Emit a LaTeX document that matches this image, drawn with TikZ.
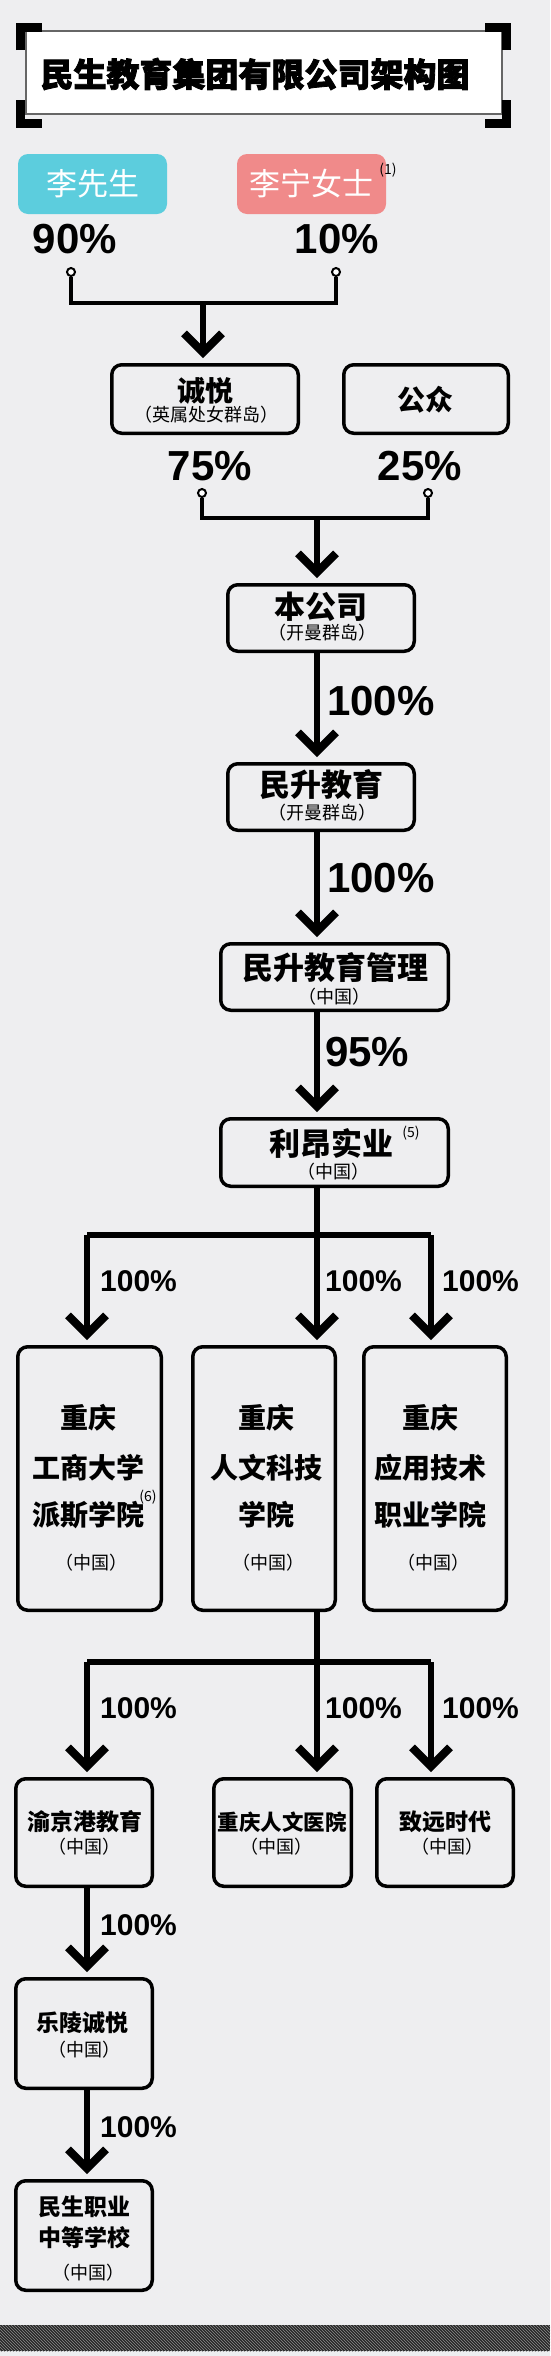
\documentclass[tikz,border=0pt]{standalone}
\usepackage{fontspec}
\setmainfont{Noto Sans CJK SC}
\newfontfamily\heavyfont{Noto Sans CJK SC}[FakeBold=2.5]
\newfontfamily\pctfont{Liberation Sans}
\usetikzlibrary{arrows.meta,patterns}
\definecolor{bg}{RGB}{238,238,240}
\definecolor{cyanbox}{RGB}{92,205,221}
\definecolor{pinkbox}{RGB}{240,138,138}
\begin{document}
\begin{tikzpicture}[x=1pt,y=-1pt,
  box/.style={draw=black, line width=3.5pt, rounded corners=10pt, inner sep=0pt},
  pill/.style={rounded corners=10pt, inner sep=0pt},
  cnbig/.style={inner sep=0pt, font=\bfseries\fontsize{31}{31}\selectfont},
  cnmid/.style={inner sep=0pt, font=\bfseries\fontsize{28}{28}\selectfont},
  cnsmall/.style={inner sep=0pt, font=\bfseries\fontsize{23}{23}\selectfont},
  cnsub/.style={inner sep=0pt, font=\fontsize{18}{18}\selectfont},
  supnote/.style={inner sep=0pt, font=\fontsize{14}{14}\selectfont},
  pctbig/.style={inner sep=0pt, font=\pctfont\bfseries\fontsize{42}{42}\selectfont},
  pctsmall/.style={inner sep=0pt, anchor=west, font=\pctfont\bfseries\fontsize{30}{30}\selectfont},
  dot/.style={circle, draw=black, fill=white, line width=2pt, minimum size=8pt, inner sep=0pt},
  fork/.style={line width=3.5pt},
  shaft/.style={line width=6pt, line cap=square},
  arr/.style={line width=6pt, shorten >=5pt, -{Straight Barb[length=19pt,width=38pt,line width=8pt]}}
]
\useasboundingbox (0,0) rectangle (550,2356);
\fill[bg] (0,0) rectangle (550,2356);

% title
\node[draw=black!60, line width=2pt, fill=white, minimum width=476pt, minimum height=83pt, inner sep=0pt] (tbox) at (264,72.5) {};
\node[inner sep=0pt, font=\heavyfont\bfseries\fontsize{33}{33}\selectfont] (ttl) at (255,74) {民生教育集团有限公司架构图};
\draw[line width=9pt] (20.5,50) -- (20.5,27.5) -- (42,27.5);
\draw[line width=9pt] (20.5,100) -- (20.5,123.5) -- (42,123.5);
\draw[line width=9pt] (506.5,50) -- (506.5,27.5) -- (485,27.5);
\draw[line width=9pt] (506.5,100) -- (506.5,123.5) -- (485,123.5);

% owners
\node[pill, fill=cyanbox, text=white, minimum width=149pt, minimum height=60pt, font=\fontsize{31}{31}\selectfont] (li) at (92.5,184) {李先生};
\node[pill, fill=pinkbox, text=white, minimum width=149pt, minimum height=60pt, font=\fontsize{31}{31}\selectfont] (ning) at (311.5,184) {李宁女士};
\node[supnote] (n1) at (388,170) {(1)};
\node[pctbig] (p90) at (75,239) {90\%};
\node[pctbig] (p10) at (337,239) {10\%};
\node[dot] (d90) at (71,272) {};
\node[dot] (d10) at (336,272) {};
\coordinate (j1) at (203,303);
\draw[fork] (d90.south) |- (j1) -| (d10.south);

% chengyue / public
\node[box, minimum width=186.5pt, minimum height=68.5pt] (cy) at (205,399) {};
\node[cnmid] (cyt) at (205,391) {诚悦};
\node[cnsub] (cys) at (206,415) {（英属处女群岛）};
\node[box, minimum width=164.5pt, minimum height=68.5pt] (gz) at (426,399) {};
\node[cnmid] (gzt) at (425,400) {公众};
\draw[arr] (j1) -- (j1 |- cy.north);
\node[pctbig] (p75) at (210,466) {75\%};
\node[pctbig] (p25) at (420,466) {25\%};
\node[dot] (d75) at (202,493) {};
\node[dot] (d25) at (428,493) {};
\coordinate (j2) at (317,518);
\draw[fork] (d75.south) |- (j2) -| (d25.south);

% main chain
\node[box, minimum width=186.5pt, minimum height=66.5pt] (bc) at (321,618) {};
\node[cnbig] (bct) at (321,607) {本公司};
\node[cnsub] (bcs) at (322,633) {（开曼群岛）};
\draw[arr] (j2) -- (j2 |- bc.north);

\node[box, minimum width=186.5pt, minimum height=66.5pt] (ms) at (321,797) {};
\node[cnbig] (mst) at (321,785) {民升教育};
\node[cnsub] (mss) at (322,813) {（开曼群岛）};
\draw[arr] (bc.south -| j2) -- (ms.north -| j2);
\node[pctbig, anchor=west] (l1) at (327,701) {100\%};

\node[box, minimum width=227.5pt, minimum height=66.5pt] (mm) at (334.5,977) {};
\node[cnbig] (mmt) at (335,968) {民升教育管理};
\node[cnsub] (mms) at (334,997) {（中国）};
\draw[arr] (ms.south -| j2) -- (mm.north -| j2);
\node[pctbig, anchor=west] (l2) at (327,878) {100\%};

\node[box, minimum width=227.5pt, minimum height=67.5pt] (la) at (334.5,1152.5) {};
\node[cnbig] (lat) at (331,1143) {利昂实业};
\node[supnote] (n5) at (411,1133) {(5)};
\node[cnsub] (las) at (333,1172) {（中国）};
\draw[arr] (mm.south -| j2) -- (la.north -| j2);
\node[pctbig, anchor=west] (l3) at (325,1052) {95\%};

% first fork
\coordinate (j3) at (317,1235);
\coordinate (j3l) at (87,1235);
\coordinate (j3r) at (431,1235);
\draw[shaft] (la.south -| j3) -- (j3);
\draw[shaft] (j3l) -- (j3r);

\node[box, minimum width=143.5pt, minimum height=263.5pt] (gs) at (89.5,1478.5) {};
\node[cnmid] (gs1) at (88,1418) {重庆};
\node[cnmid] (gs2) at (88,1468) {工商大学};
\node[cnmid] (gs3) at (88,1515) {派斯学院};
\node[supnote] (n6) at (148,1497) {(6)};
\node[cnsub] (gs4) at (91,1563) {（中国）};

\node[box, minimum width=142.5pt, minimum height=263.5pt] (rw) at (264,1478.5) {};
\node[cnmid] (rw1) at (266,1418) {重庆};
\node[cnmid] (rw2) at (266,1468) {人文科技};
\node[cnmid] (rw3) at (266,1515) {学院};
\node[cnsub] (rw4) at (268,1563) {（中国）};

\node[box, minimum width=142.5pt, minimum height=263.5pt] (yy) at (435,1478.5) {};
\node[cnmid] (yy1) at (430,1418) {重庆};
\node[cnmid] (yy2) at (430,1468) {应用技术};
\node[cnmid] (yy3) at (430,1515) {职业学院};
\node[cnsub] (yy4) at (433,1563) {（中国）};

\draw[arr] (j3l) -- (j3l |- gs.north);
\draw[arr] (j3) -- (j3 |- rw.north);
\draw[arr] (j3r) -- (j3r |- yy.north);
\node[pctsmall] (l4) at (100,1281) {100\%};
\node[pctsmall] (l5) at (325,1281) {100\%};
\node[pctsmall] (l6) at (442,1281) {100\%};

% second fork
\coordinate (j4) at (317,1662);
\coordinate (j4l) at (87,1662);
\coordinate (j4r) at (431,1662);
\draw[shaft] (rw.south -| j4) -- (j4);
\draw[shaft] (j4l) -- (j4r);

\node[box, minimum width=136.5pt, minimum height=107.5pt] (yj) at (84,1832.5) {};
\node[cnsmall] (yjt) at (85,1822) {渝京港教育};
\node[cnsub] (yjs) at (84,1847) {（中国）};
\node[box, minimum width=137.5pt, minimum height=107.5pt] (ho) at (282.5,1832.5) {};
\node[inner sep=0pt, font=\bfseries\fontsize{21.5}{21.5}\selectfont] (hot) at (282,1822) {重庆人文医院};
\node[cnsub] (hos) at (276,1847) {（中国）};
\node[box, minimum width=136.5pt, minimum height=107.5pt] (zy) at (445,1832.5) {};
\node[cnsmall] (zyt) at (445,1822) {致远时代};
\node[cnsub] (zys) at (447,1847) {（中国）};

\draw[arr] (j4l) -- (j4l |- yj.north);
\draw[arr] (j4) -- (j4 |- ho.north);
\draw[arr] (j4r) -- (j4r |- zy.north);
\node[pctsmall] (l7) at (100,1708) {100\%};
\node[pctsmall] (l8) at (325,1708) {100\%};
\node[pctsmall] (l9) at (442,1708) {100\%};

% lower chain
\node[box, minimum width=136.5pt, minimum height=109.5pt] (lc) at (84,2033.5) {};
\node[cnsmall] (lct) at (82,2023) {乐陵诚悦};
\node[cnsub] (lcs) at (84,2050) {（中国）};
\draw[arr] (yj.south -| j4l) -- (lc.north -| j4l);
\node[pctsmall] (l10) at (100,1925) {100\%};

\node[box, minimum width=136.5pt, minimum height=109.5pt] (zx) at (84,2235.5) {};
\node[cnsmall] (zx1) at (84,2207) {民生职业};
\node[cnsmall] (zx2) at (84,2238) {中等学校};
\node[cnsub] (zx3) at (88,2273) {（中国）};
\draw[arr] (lc.south -| j4l) -- (zx.north -| j4l);
\node[pctsmall] (l11) at (100,2127) {100\%};

% bottom band
\fill[black!85] (0,2325) rectangle (550,2351);
\fill[pattern=north west lines, pattern color=black!45] (0,2325) rectangle (550,2351);
\end{tikzpicture}
\end{document}
